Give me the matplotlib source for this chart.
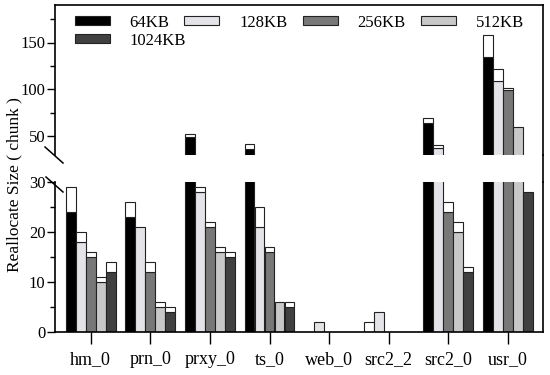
import matplotlib
matplotlib.use("Agg")
import matplotlib.pyplot as plt
import numpy as np
from matplotlib.patches import Patch
from matplotlib.lines import Line2D

categories = ["hm_0", "prn_0", "prxy_0", "ts_0", "web_0", "src2_2", "src2_0", "usr_0"]
series = ["64KB", "128KB", "256KB", "512KB", "1024KB"]
# filled (base) part of each bar
base = {
    "64KB":   [24, 23, 49, 36, 0, 0, 64, 135],
    "128KB":  [18, 21, 28, 21, 2, 4, 38, 109],
    "256KB":  [15, 12, 21, 16, 0, 0, 24, 99],
    "512KB":  [10, 5, 16, 6, 0, 0, 20, 60],
    "1024KB": [12, 4, 15, 5, 0, 0, 12, 28],
}
# white (extra) part stacked on top
extra = {
    "64KB":   [5, 3, 3, 6, 0, 2, 6, 23],
    "128KB":  [2, 0, 1, 4, 0, 0, 3, 13],
    "256KB":  [1, 2, 1, 1, 0, 0, 2, 3],
    "512KB":  [1, 1, 1, 0, 0, 0, 2, 0],
    "1024KB": [2, 1, 1, 1, 0, 0, 1, 0],
}
colors = {"64KB": "#000000", "128KB": "#e4e4e8", "256KB": "#787878",
          "512KB": "#c8c8c8", "1024KB": "#404040"}

plt.rcParams['font.family'] = ['Liberation Serif', 'DejaVu Serif']
plt.rcParams['font.size'] = 12

fig = plt.figure(figsize=(5.5, 3.75), dpi=100)
L, R = 55/550, 543/550
ax_top = fig.add_axes([L, (375-155)/375, R-L, 150/375])
ax_bot = fig.add_axes([L, (375-332)/375, R-L, 150/375])

x = np.arange(len(categories))
w = 0.165
step = 0.168
edge = "#222222"
for ax in (ax_top, ax_bot):
    for i, s in enumerate(series):
        xs = x + (i - 2) * step
        b = np.array(base[s], dtype=float)
        e = np.array(extra[s], dtype=float)
        mask_b = b > 0
        ax.bar(xs[mask_b], b[mask_b], width=w, color=colors[s], edgecolor=edge, linewidth=0.8)
        mask_e = e > 0
        ax.bar(xs[mask_e], e[mask_e], bottom=b[mask_e], width=w, color="white",
               edgecolor=edge, linewidth=0.8)
    ax.set_xlim(-0.6, 7.59)

ax_top.set_ylim(30, 190)
ax_bot.set_ylim(0, 30)
ax_top.set_yticks([50, 100, 150])
ax_top.set_yticks([75, 125, 175], minor=True)
ax_bot.set_yticks([0, 10, 20, 30])
ax_bot.set_yticks([5, 15, 25], minor=True)

ax_top.spines['bottom'].set_visible(False)
ax_bot.spines['top'].set_visible(False)
ax_top.set_xticks([])
ax_bot.set_xticks(x)
ax_bot.set_xticklabels(categories)
for ax in (ax_top, ax_bot):
    ax.tick_params(axis='y', direction='out', length=6, width=1, labelsize=12, pad=1)
    ax.tick_params(axis='y', which='minor', direction='out', length=3.5, width=1)
    ax.tick_params(axis='x', direction='out', length=8.5, width=1, labelsize=13, pad=5)
    for sp in ax.spines.values():
        sp.set_linewidth(1.2)

# continuous right border across the gap
fig.add_artist(Line2D([R, R], [(375-182)/375, (375-155)/375], color='black', lw=1.2,
                      transform=fig.transFigure))
# break marks on the left spine
def fx(px):
    return px / 550
def fy(py):
    return (375 - py) / 375
fig.add_artist(Line2D([fx(45), fx(63)], [fy(147), fy(163)], color='black', lw=1.1,
                      transform=fig.transFigure))
fig.add_artist(Line2D([fx(46), fx(63)], [fy(177), fy(192)], color='black', lw=1.1,
                      transform=fig.transFigure))

# legend: first row 64,128,256,512 ; second row 1024
leg_kw = dict(loc='upper left', frameon=False, borderaxespad=0, borderpad=0,
              handlelength=2.1, handleheight=0.42, handletextpad=1.2,
              columnspacing=0.9, fontsize=12)
row1 = series[:4]
h1 = [Patch(facecolor=colors[s], edgecolor=edge, linewidth=0.8) for s in row1]
leg1 = ax_top.legend(h1, row1, ncol=4, bbox_to_anchor=(0.04, 0.935), **leg_kw)
ax_top.add_artist(leg1)
row2 = series[4:]
h2 = [Patch(facecolor=colors[s], edgecolor=edge, linewidth=0.8) for s in row2]
ax_top.legend(h2, row2, ncol=1, bbox_to_anchor=(0.04, 0.815), **leg_kw)

fig.text(0.027, (375-185)/375, "Reallocate Size ( chunk )", rotation=90,
         ha='center', va='center', fontsize=12.5)

fig.savefig("out.png", dpi=100)
